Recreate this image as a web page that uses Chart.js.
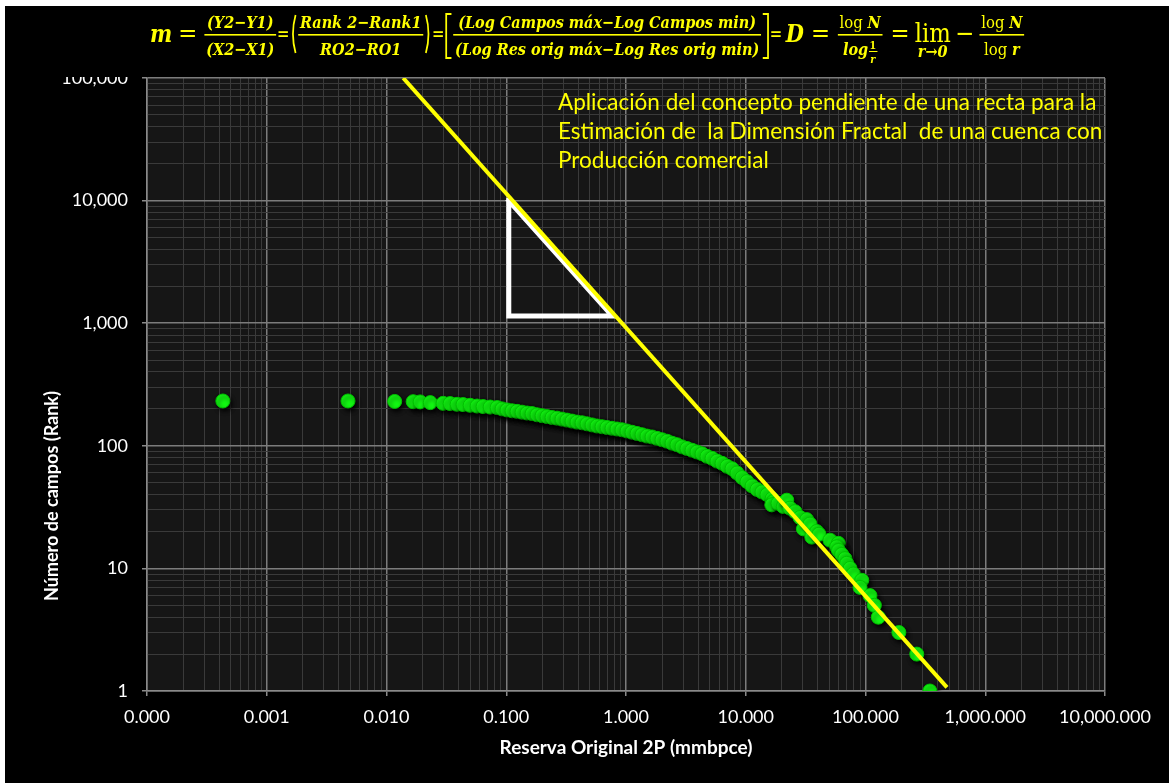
<!DOCTYPE html>
<html>
<head>
<meta charset="utf-8">
<script src="https://cdn.jsdelivr.net/npm/chart.js@4.4.0/dist/chart.umd.min.js"></script>
<style>
  html, body { margin: 0; padding: 0; background: #000; }
  canvas { display: block; }
</style>
</head>
<body>
<canvas id="myChart" width="1169" height="783"></canvas>
<script>
// ejes (log)
const xMajorTicks = [0.0001, 0.001, 0.01, 0.1, 1, 10, 100, 1000, 10000];
const xTickLabels = ["0.000", "0.001", "0.010", "0.100", "1.000", "10.000", "100.000", "1,000.000", "10,000.000"];
const yMajorTicks = [1, 10, 100, 1000, 10000, 100000];
const yTickLabels = ["1", "10", "100", "1,000", "10,000", "100,000"];

// campos: reserva original 2P (mmbpce) vs rango
const reservaOriginal = [
  0.00043, 0.00477, 0.0117, 0.0167, 0.0191, 0.0232, 0.0297, 0.034, 0.0389, 0.0436, 0.05, 0.0571, 0.0641, 0.0734, 0.084,
  0.0924, 0.1017, 0.112, 0.1233, 0.1357, 0.1495, 0.1645, 0.1811, 0.1994, 0.2195, 0.2416, 0.266, 0.2928, 0.3224, 0.3549,
  0.3907, 0.4301, 0.4735, 0.5212, 0.5738, 0.6317, 0.6954, 0.7656, 0.8428, 0.9278, 1.021, 1.124, 1.238, 1.363, 1.5,
  1.652, 1.818, 2.001, 2.203, 2.426, 2.67, 2.94, 3.236, 3.563, 3.922, 4.318, 4.753, 5.233, 5.76, 6.342,
  6.982, 7.685, 8.461, 9.314, 10.25, 11.29, 12.43, 13.68, 15.06, 16.58,
  17.0, 16.5, 18.6, 20.6, 22.0, 23.4, 25.8, 28.4, 30.3, 32.3, 34.4, 35.6, 39.1, 40.9, 50.5,
  59.3, 57.5, 59.5, 63.3, 67.4, 69.7, 74.3, 79.1, 93.0, 90.0, 109, 118.5, 128, 190, 268, 345
];
const numeroCampos = [
  232, 232, 230, 229, 228, 225, 222, 221, 218, 217, 214, 211, 209, 207, 205,
  200, 196, 193, 191, 188, 185, 183, 179, 176, 173, 170, 168, 165, 162, 159,
  156, 154, 151, 148, 145, 143, 141, 139, 137, 135, 132, 129, 126, 123, 120,
  118, 115, 112, 109, 105, 102, 98, 95, 92, 89, 86, 82, 79, 75, 72,
  68, 65, 60, 55, 51, 47, 44, 42, 40, 37,
  35, 33, 34, 32, 36, 31, 29, 26, 21, 25, 23, 18, 20, 19, 17,
  16, 15, 14, 13, 12, 11, 10, 9, 8, 7, 6, 5, 4, 3, 2, 1
];

// recta de pendiente
const rectaX = [0.01378, 479];
const rectaY = [100000, 1.07];

// triangulo
const trianguloX = [0.105, 0.105, 0.766, 0.105];
const trianguloY = [10000, 1147, 1147, 10000];

const textoAnotacion = [
  "Aplicación del concepto pendiente de una recta para la",
  "Estimación de  la Dimensión Fractal  de una cuenca con",
  "Producción comercial"
];
const tituloX = "Reserva Original 2P (mmbpce)";
const tituloY = "Número de campos (Rank)";

const AMARILLO = "#ffff00";

function toPoints(xs, ys) {
  return xs.map(function (x, i) { return { x: x, y: ys[i] }; });
}

function buildLogTicks(majors) {
  var t = [];
  majors.forEach(function (m, i) {
    if (i === majors.length - 1) { t.push({ value: m, major: true }); return; }
    for (var k = 1; k <= 9; k++) t.push({ value: m * k, major: k === 1 });
  });
  return t;
}

function labelFor(majors, labels, value) {
  var i = majors.findIndex(function (m) { return Math.abs(m - value) / m < 1e-6; });
  return i >= 0 ? labels[i] : "";
}

// formula
const F_BIG_I = 'italic bold 24px "DejaVu Serif"';
const F_BIG = '26px "DejaVu Serif"';
const F_SM_I = 'italic bold 16.5px "DejaVu Serif"';
const F_SM = '17px "DejaVu Serif"';
const F_SM_B = 'bold 17px "DejaVu Serif"';
const F_TINY = 'bold 11px "DejaVu Serif"';
const F_TINY_I = 'italic bold 11px "DejaVu Serif"';

const formula = [
  { t: "m", f: F_BIG_I }, { gap: 7 }, { t: "=", f: F_BIG }, { gap: 7 },
  { num: [["(Y2−Y1)", F_SM_I]], den: [["(X2−X1)", F_SM_I]] },
  { t: "=", f: F_SM_B }, { br: "(" },
  { num: [["Rank 2−Rank1", F_SM_I]], den: [["RO2−RO1", F_SM_I]] },
  { br: ")" }, { t: "=", f: F_SM_B }, { br: "[" },
  { num: [["(Log Campos máx−Log Campos min)", F_SM_I]], den: [["(Log Res orig máx−Log Res orig min)", F_SM_I]] },
  { br: "]" }, { t: "=", f: F_SM_B }, { gap: 4 }, { t: "D", f: F_BIG_I }, { gap: 8 }, { t: "=", f: F_BIG }, { gap: 8 },
  { num: [["log ", F_SM], ["N", F_SM_I]], den: [["log", F_SM_I], { mini: ["1", "r"] }] },
  { gap: 8 }, { t: "=", f: F_BIG }, { gap: 6 },
  { lim: true }, { gap: 5 }, { t: "−", f: F_BIG }, { gap: 5 },
  { num: [["log ", F_SM], ["N", F_SM_I]], den: [["log ", F_SM], ["r", F_SM_I]] }
];

function runsWidth(ctx, runs) {
  var w = 0;
  runs.forEach(function (r) {
    if (r.mini) {
      ctx.font = F_TINY; var a = ctx.measureText(r.mini[0]).width;
      ctx.font = F_TINY_I; var b = ctx.measureText(r.mini[1]).width;
      w += Math.max(a, b) + 3;
    } else {
      ctx.font = r[1]; w += ctx.measureText(r[0]).width;
    }
  });
  return w;
}

function drawRuns(ctx, runs, x, base) {
  runs.forEach(function (r) {
    if (r.mini) {
      ctx.font = F_TINY; var a = ctx.measureText(r.mini[0]).width;
      ctx.font = F_TINY_I; var b = ctx.measureText(r.mini[1]).width;
      var w = Math.max(a, b) + 3;
      ctx.textAlign = "center";
      ctx.font = F_TINY; ctx.fillText(r.mini[0], x + w / 2, base - 6);
      ctx.fillRect(x + 1, base - 4, w - 1, 1);
      ctx.font = F_TINY_I; ctx.fillText(r.mini[1], x + w / 2, base + 8);
      ctx.textAlign = "left";
      x += w;
    } else {
      ctx.font = r[1]; ctx.fillText(r[0], x, base);
      x += ctx.measureText(r[0]).width;
    }
  });
}

function partWidth(ctx, p) {
  if (p.gap) return p.gap;
  if (p.br) return 9;
  if (p.t) { ctx.font = p.f; return ctx.measureText(p.t).width; }
  if (p.lim) {
    ctx.font = F_BIG; var a = ctx.measureText("lim").width;
    ctx.font = F_SM_I; return Math.max(a, ctx.measureText("r→0").width);
  }
  return Math.max(runsWidth(ctx, p.num), runsWidth(ctx, p.den)) + 6;
}

function drawFormula(ctx) {
  var BASE = 42, BAR = 34, NUM = 28, DEN = 55;
  var total = 0;
  formula.forEach(function (p) { total += partWidth(ctx, p); });
  var sx = 875 / total;
  ctx.save();
  ctx.translate(150, 0);
  ctx.scale(sx, 1);
  ctx.fillStyle = AMARILLO;
  ctx.strokeStyle = AMARILLO;
  ctx.textBaseline = "alphabetic";
  ctx.textAlign = "left";
  var x = 0;
  formula.forEach(function (p) {
    var w = partWidth(ctx, p);
    if (p.t) {
      ctx.font = p.f;
      ctx.fillText(p.t, x, p.f === F_SM_B ? 39 : BASE);
    } else if (p.br) {
      ctx.lineWidth = 2;
      ctx.beginPath();
      if (p.br === "(") { ctx.moveTo(x + 7, 15); ctx.quadraticCurveTo(x + 1, 34, x + 7, 53); }
      else if (p.br === ")") { ctx.moveTo(x + 2, 15); ctx.quadraticCurveTo(x + 8, 34, x + 2, 53); }
      else if (p.br === "[") { ctx.moveTo(x + 8, 14); ctx.lineTo(x + 2, 14); ctx.lineTo(x + 2, 58); ctx.lineTo(x + 8, 58); }
      else { ctx.moveTo(x + 1, 14); ctx.lineTo(x + 7, 14); ctx.lineTo(x + 7, 58); ctx.lineTo(x + 1, 58); }
      ctx.stroke();
    } else if (p.lim) {
      ctx.textAlign = "center";
      ctx.font = F_BIG; ctx.fillText("lim", x + w / 2, BASE);
      ctx.font = F_SM_I; ctx.fillText("r→0", x + w / 2, 57);
      ctx.textAlign = "left";
    } else if (p.num) {
      var nw = runsWidth(ctx, p.num), dw = runsWidth(ctx, p.den);
      drawRuns(ctx, p.num, x + (w - nw) / 2, NUM);
      drawRuns(ctx, p.den, x + (w - dw) / 2, DEN);
      ctx.fillRect(x + 1, BAR, w - 2, 1.6);
    }
    x += w;
  });
  ctx.restore();
}

const fondoPlugin = {
  id: "fondo",
  beforeDraw(chart) {
    const ctx = chart.ctx, a = chart.chartArea;
    ctx.save();
    ctx.fillStyle = "#000000";
    ctx.fillRect(0, 0, chart.width, chart.height);
    ctx.fillStyle = "#161616";
    ctx.fillRect(a.left, a.top, a.right - a.left, a.bottom - a.top);
    ctx.restore();
  },
  beforeDatasetDraw(chart, args) {
    if (args.index !== 2) return;
    const ctx = chart.ctx;
    ctx.save();
    ctx.shadowColor = "rgba(0,0,0,0.9)";
    ctx.shadowBlur = 4;
    ctx.shadowOffsetX = 2;
    ctx.shadowOffsetY = 3;
  },
  afterDatasetDraw(chart, args) {
    if (args.index === 2) chart.ctx.restore();
  },
  afterDraw(chart) {
    const ctx = chart.ctx;
    ctx.save();
    // franja de la ecuacion (tapa media etiqueta 100,000 como en el original)
    ctx.fillStyle = "#000000";
    ctx.fillRect(0, 0, chart.width, 77);
    ctx.fillStyle = "#ffffff";
    ctx.fillRect(0, 0, chart.width, 6);
    ctx.fillRect(0, 0, 5, chart.height);
    drawFormula(ctx);

    // texto amarillo
    ctx.fillStyle = AMARILLO;
    ctx.font = '22.5px Lato';
    ctx.textAlign = "left";
    ctx.textBaseline = "alphabetic";
    textoAnotacion.forEach(function (s, i) {
      ctx.fillText(s, 558, 110 + i * 29);
    });

    // titulos de ejes
    ctx.fillStyle = "#ffffff";
    ctx.font = 'bold 19px Lato';
    ctx.textAlign = "center";
    ctx.textBaseline = "middle";
    ctx.fillText(tituloX, 626, 748);
    ctx.font = 'bold 18px Lato';
    ctx.translate(52, 496);
    ctx.rotate(-Math.PI / 2);
    ctx.fillText(tituloY, 0, 0);
    ctx.restore();
  }
};

function gridColor(c) { return c.tick && c.tick.major ? "#7c7c7c" : "#3a3a3a"; }
function gridWidth(c) { return c.tick && c.tick.major ? 1.5 : 1; }
function tickColor(c) { return c.tick && c.tick.major ? "#8a8a8a" : "rgba(0,0,0,0)"; }

var ctx = document.getElementById("myChart").getContext("2d");
var chart = new Chart(ctx, {
  type: "scatter",
  data: {
    datasets: [
      {
        label: "Recta",
        data: toPoints(rectaX, rectaY),
        showLine: true,
        borderColor: AMARILLO,
        borderWidth: 4,
        borderCapStyle: "butt",
        pointRadius: 0,
        order: 0
      },
      {
        label: "Triangulo",
        data: toPoints(trianguloX, trianguloY),
        showLine: true,
        borderColor: "#ffffff",
        borderWidth: 5,
        borderJoinStyle: "miter",
        borderCapStyle: "square",
        pointRadius: 0,
        order: 1
      },
      {
        label: "Campos",
        data: toPoints(reservaOriginal, numeroCampos),
        pointRadius: 7,
        pointBackgroundColor: "#12f812",
        pointBorderColor: "#00c400",
        pointBorderWidth: 1,
        order: 2
      }
    ]
  },
  options: {
    responsive: false,
    animation: false,
    events: [],
    layout: { padding: { top: 78, right: 64, left: 0, bottom: 0 } },
    plugins: {
      legend: { display: false },
      tooltip: { enabled: false },
      title: { display: false }
    },
    scales: {
      x: {
        type: "logarithmic",
        min: 0.0001,
        max: 10000,
        afterBuildTicks: function (scale) { scale.ticks = buildLogTicks(xMajorTicks); },
        afterFit: function (scale) { scale.height = 92; },
        grid: { color: gridColor, lineWidth: gridWidth, tickColor: tickColor, tickLength: 5 },
        border: { color: "#8a8a8a", width: 1.5 },
        ticks: {
          autoSkip: false,
          maxRotation: 0,
          minRotation: 0,
          padding: 10,
          color: "#ffffff",
          font: { family: "Lato", size: 18 },
          callback: function (v) { return labelFor(xMajorTicks, xTickLabels, v); }
        }
      },
      y: {
        type: "logarithmic",
        min: 1,
        max: 100000,
        afterBuildTicks: function (scale) { scale.ticks = buildLogTicks(yMajorTicks); },
        afterFit: function (scale) { scale.width = 147; },
        grid: { color: gridColor, lineWidth: gridWidth, tickColor: tickColor, tickLength: 5 },
        border: { color: "#8a8a8a", width: 1.5 },
        ticks: {
          autoSkip: false,
          padding: 14,
          color: "#ffffff",
          font: { family: "Lato", size: 18 },
          callback: function (v) { return labelFor(yMajorTicks, yTickLabels, v); }
        }
      }
    }
  },
  plugins: [fondoPlugin]
});
</script>
</body>
</html>
